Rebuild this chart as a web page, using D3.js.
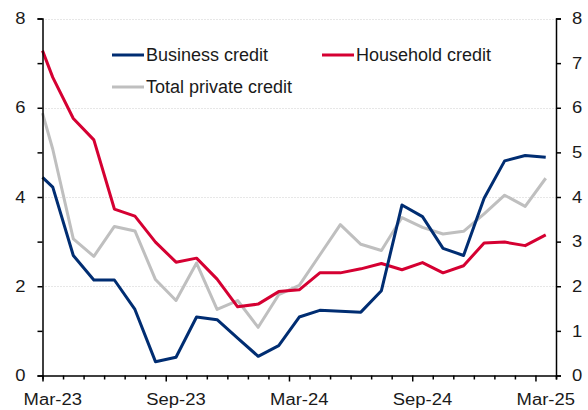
<!DOCTYPE html>
<html>
<head>
<meta charset="utf-8">
<script src="https://cdn.jsdelivr.net/npm/d3@7"></script>
<style>
  body { margin: 0; background: #fff; }
  svg text { font-family: "Liberation Sans", Arial, sans-serif; fill: #1a1a1a; }
</style>
</head>
<body>
<script>
// months shown on the axis, Mar-23 .. Mar-25
var months = ["Mar-23","Apr-23","May-23","Jun-23","Jul-23","Aug-23","Sep-23","Oct-23","Nov-23","Dec-23",
  "Jan-24","Feb-24","Mar-24","Apr-24","May-24","Jun-24","Jul-24","Aug-24","Sep-24","Oct-24","Nov-24","Dec-24",
  "Jan-25","Feb-25","Mar-25"];
var xLabels = ["Mar-23","Sep-23","Mar-24","Sep-24","Mar-25"];

// first value is the opening point at the left edge, then one per month
var business = [4.44, 4.22, 2.69, 2.14, 2.14, 1.48, 0.31, 0.41, 1.31, 1.25, 0.84, 0.43, 0.67,
  1.31, 1.46, 1.44, 1.42, 1.90, 3.82, 3.56, 2.85, 2.69, 3.97, 4.81, 4.93, 4.89];
var household = [7.28, 6.68, 5.76, 5.28, 3.73, 3.57, 2.99, 2.54, 2.63, 2.16, 1.54, 1.60, 1.88,
  1.92, 2.30, 2.30, 2.39, 2.51, 2.37, 2.53, 2.30, 2.46, 2.97, 2.99, 2.91, 3.15];
var total = [5.88, 5.07, 3.06, 2.67, 3.34, 3.24, 2.15, 1.68, 2.52, 1.48, 1.68, 1.08, 1.81,
  2.02, 2.70, 3.38, 2.94, 2.80, 3.54, 3.32, 3.17, 3.23, 3.62, 4.04, 3.79, 4.42];

var leftTicks = [0, 2, 4, 6, 8];
var rightTicks = [0, 1, 2, 3, 4, 5, 6, 7, 8];

var w = 588, h = 410;
var plotLeft = 42.5, plotRight = 556, plotTop = 18.5, plotBottom = 375.5;

var svg = d3.select("body").append("svg")
  .attr("width", w)
  .attr("height", h);

var x = d3.scaleLinear().domain([0, months.length]).range([plotLeft, plotRight]);
var y = d3.scaleLinear().domain([0, 8]).range([plotBottom, plotTop]);

// point positions: opening point at edge, then month centres
var xPos = [0].concat(months.map(function(m, i) { return i + 0.5; }));

// gridlines
svg.append("g")
  .selectAll("line")
  .data(leftTicks.filter(function(d) { return d > 0; }))
  .enter().append("line")
  .attr("x1", plotLeft).attr("x2", plotRight)
  .attr("y1", function(d) { return Math.round(y(d)) + 0.5; })
  .attr("y2", function(d) { return Math.round(y(d)) + 0.5; })
  .attr("stroke", "#cfcfcf")
  .attr("stroke-width", 1)
  .attr("stroke-dasharray", "1,2");

// lines
var series = [
  { name: "Business credit", values: business, color: "#002d72" },
  { name: "Household credit", values: household, color: "#d50032" },
  { name: "Total private credit", values: total, color: "#bfbfbf" }
];
var line = d3.line()
  .x(function(d, i) { return x(xPos[i]); })
  .y(function(d) { return y(d); });

svg.append("g")
  .selectAll("path")
  .data([series[2], series[1], series[0]])
  .enter().append("path")
  .attr("d", function(s) { return line(s.values); })
  .attr("fill", "none")
  .attr("stroke", function(s) { return s.color; })
  .attr("stroke-width", 3)
  .attr("stroke-linejoin", "round");

// left axis
var yLeft = svg.append("g")
  .attr("transform", "translate(" + plotLeft + ",0)")
  .call(d3.axisLeft(y).tickValues(rightTicks).tickSize(5).tickPadding(12)
    .tickFormat(function(d) { return leftTicks.indexOf(d) >= 0 ? d : ""; }));

// right axis
var yRight = svg.append("g")
  .attr("transform", "translate(" + plotRight + ",0)")
  .call(d3.axisRight(y).tickValues(rightTicks).tickSize(5).tickPadding(11));

// bottom axis: ticks on month boundaries
var xAxis = svg.append("g")
  .attr("transform", "translate(0," + plotBottom + ")")
  .call(d3.axisBottom(x).tickValues(d3.range(0, months.length + 1)).tickSize(4).tickFormat(""));

xAxis.selectAll(".tick line")
  .attr("y2", function(d) { return d % 6 === 0 ? 6 : 4; });

xAxis.selectAll(".month")
  .data(xLabels)
  .enter().append("text")
  .attr("class", "month")
  .attr("x", function(d) { return x(months.indexOf(d) + 0.5); })
  .attr("y", 29)
  .attr("text-anchor", "middle")
  .text(function(d) { return d; });

[yLeft, yRight, xAxis].forEach(function(a) {
  a.select(".domain").attr("stroke", "#000").attr("stroke-width", 1.5);
  a.selectAll(".tick line").attr("stroke", "#000").attr("stroke-width", 1.5);
  a.selectAll("text")
    .attr("font-size", 16)
    .style("font-family", "Liberation Sans, Arial, sans-serif")
    .attr("fill", "#1a1a1a")
    .each(function() {
      // the source font runs a bit wider than Arial
      var len = this.getComputedTextLength();
      if (len > 0) {
        d3.select(this).attr("textLength", len * 1.15).attr("lengthAdjust", "spacingAndGlyphs");
      }
    });
});

// legend
var legendItems = [
  { s: series[0], x: 112, y: 55 },
  { s: series[1], x: 322, y: 55 },
  { s: series[2], x: 112, y: 87 }
];
var legend = svg.append("g")
  .selectAll("g")
  .data(legendItems)
  .enter().append("g")
  .attr("transform", function(d) { return "translate(" + d.x + "," + d.y + ")"; });

legend.append("line")
  .attr("x1", 0).attr("x2", 32)
  .attr("stroke", function(d) { return d.s.color; })
  .attr("stroke-width", 3);

legend.append("text")
  .attr("x", 34)
  .attr("dy", "0.35em")
  .attr("font-size", 18)
  .text(function(d) { return d.s.name; });
</script>
</body>
</html>
